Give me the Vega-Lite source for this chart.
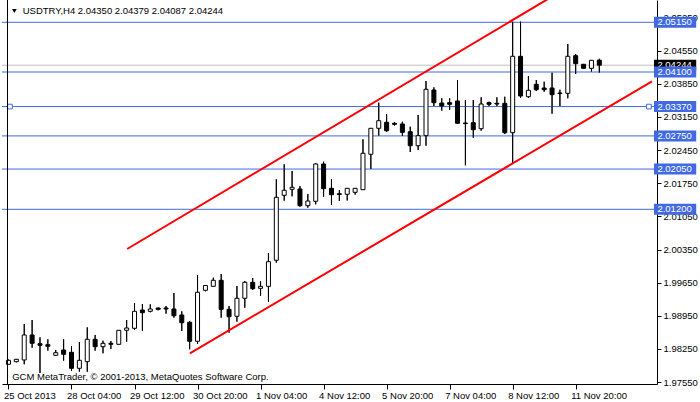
{
  "$schema": "https://vega.github.io/schema/vega-lite/v6.json",
  "width": 655,
  "height": 384,
  "autosize": "none",
  "padding": {"left": 2, "top": 0, "right": 43, "bottom": 18},
  "background": "white",
  "config": {
    "view": {"stroke": null},
    "font": "Liberation Sans",
    "axis": {"grid": false, "domainColor": "black", "tickColor": "black", "labelColor": "black", "labelFont": "Liberation Sans", "labelFontSize": 9.5, "labelFlush": false, "labelOverlap": false}
  },
  "datasets": {
    "candles": [
      {"i":0,"o":1.97926,"h":1.98027,"l":1.97921,"c":1.98010},
      {"i":1,"o":1.97981,"h":1.98038,"l":1.97968,"c":1.98031},
      {"i":2,"o":1.98017,"h":1.98777,"l":1.97926,"c":1.98545},
      {"i":3,"o":1.98545,"h":1.98861,"l":1.98276,"c":1.98369},
      {"i":4,"o":1.98361,"h":1.98496,"l":1.97742,"c":1.98327},
      {"i":5,"o":1.98340,"h":1.98454,"l":1.98213,"c":1.98306},
      {"i":6,"o":1.98116,"h":1.98228,"l":1.98112,"c":1.98171},
      {"i":7,"o":1.98228,"h":1.98454,"l":1.98002,"c":1.98137},
      {"i":8,"o":1.98179,"h":1.98312,"l":1.97784,"c":1.97841},
      {"i":9,"o":1.97841,"h":1.98397,"l":1.97769,"c":1.98010},
      {"i":10,"o":1.97981,"h":1.98707,"l":1.97769,"c":1.98454},
      {"i":11,"o":1.98454,"h":1.98545,"l":1.98213,"c":1.98297},
      {"i":12,"o":1.98297,"h":1.98424,"l":1.98158,"c":1.98369},
      {"i":13,"o":1.98369,"h":1.98418,"l":1.98249,"c":1.98348},
      {"i":14,"o":1.98348,"h":1.98650,"l":1.98344,"c":1.98644},
      {"i":15,"o":1.98644,"h":1.98861,"l":1.98403,"c":1.98692},
      {"i":16,"o":1.98686,"h":1.99221,"l":1.98656,"c":1.99045},
      {"i":17,"o":1.99073,"h":1.99199,"l":1.98635,"c":1.99016},
      {"i":18,"o":1.99045,"h":1.99193,"l":1.99024,"c":1.99094},
      {"i":19,"o":1.99115,"h":1.99121,"l":1.99066,"c":1.99087},
      {"i":20,"o":1.99115,"h":1.99157,"l":1.98995,"c":1.99094},
      {"i":21,"o":1.99094,"h":1.99432,"l":1.98910,"c":1.98952},
      {"i":22,"o":1.98967,"h":1.99045,"l":1.98629,"c":1.98804},
      {"i":23,"o":1.98813,"h":1.98840,"l":1.98243,"c":1.98412},
      {"i":24,"o":1.98412,"h":1.99806,"l":1.98354,"c":1.99447},
      {"i":25,"o":1.99489,"h":1.99594,"l":1.99468,"c":1.99590},
      {"i":26,"o":1.99573,"h":1.99755,"l":1.99565,"c":1.99700},
      {"i":27,"o":1.99700,"h":1.99833,"l":1.98910,"c":1.99087},
      {"i":28,"o":1.99087,"h":1.99157,"l":1.98593,"c":1.98931},
      {"i":29,"o":1.98940,"h":1.99580,"l":1.98826,"c":1.99320},
      {"i":30,"o":1.99320,"h":1.99685,"l":1.99121,"c":1.99658},
      {"i":31,"o":1.99658,"h":1.99749,"l":1.99495,"c":1.99523},
      {"i":32,"o":1.99531,"h":1.99679,"l":1.99375,"c":1.99573},
      {"i":33,"o":1.99573,"h":2.00277,"l":1.99248,"c":2.00093},
      {"i":34,"o":2.00123,"h":2.01834,"l":2.00072,"c":2.01453},
      {"i":35,"o":2.01496,"h":2.02150,"l":2.01382,"c":2.01601},
      {"i":36,"o":2.01622,"h":2.02009,"l":2.01474,"c":2.01665},
      {"i":37,"o":2.01629,"h":2.01692,"l":2.01255,"c":2.01276},
      {"i":38,"o":2.01276,"h":2.01523,"l":2.01234,"c":2.01375},
      {"i":39,"o":2.01369,"h":2.02172,"l":2.01305,"c":2.02157},
      {"i":40,"o":2.02157,"h":2.02205,"l":2.01466,"c":2.01635},
      {"i":41,"o":2.01643,"h":2.01834,"l":2.01291,"c":2.01508},
      {"i":42,"o":2.01529,"h":2.01607,"l":2.01375,"c":2.01512},
      {"i":43,"o":2.01517,"h":2.01650,"l":2.01386,"c":2.01643},
      {"i":44,"o":2.01559,"h":2.01650,"l":2.01510,"c":2.01643},
      {"i":45,"o":2.01614,"h":2.02679,"l":2.01607,"c":2.02383},
      {"i":46,"o":2.02362,"h":2.02917,"l":2.02051,"c":2.02911},
      {"i":47,"o":2.02911,"h":2.03452,"l":2.02755,"c":2.03071},
      {"i":48,"o":2.03038,"h":2.03207,"l":2.02839,"c":2.02860},
      {"i":49,"o":2.03017,"h":2.03044,"l":2.02970,"c":2.02995},
      {"i":50,"o":2.03002,"h":2.03050,"l":2.02748,"c":2.02826},
      {"i":51,"o":2.02839,"h":2.02945,"l":2.02410,"c":2.02543},
      {"i":52,"o":2.02543,"h":2.03192,"l":2.02453,"c":2.02755},
      {"i":53,"o":2.02755,"h":2.03910,"l":2.02543,"c":2.03735},
      {"i":54,"o":2.03720,"h":2.03777,"l":2.03382,"c":2.03452},
      {"i":55,"o":2.03445,"h":2.03545,"l":2.03283,"c":2.03382},
      {"i":56,"o":2.03452,"h":2.03545,"l":2.03298,"c":2.03418},
      {"i":57,"o":2.03488,"h":2.03931,"l":2.03010,"c":2.03017},
      {"i":58,"o":2.03023,"h":2.03509,"l":2.02129,"c":2.03010},
      {"i":59,"o":2.03029,"h":2.03509,"l":2.02712,"c":2.02881},
      {"i":60,"o":2.02902,"h":2.03566,"l":2.02860,"c":2.03424},
      {"i":61,"o":2.03452,"h":2.03473,"l":2.03382,"c":2.03418},
      {"i":62,"o":2.03439,"h":2.03566,"l":2.03382,"c":2.03424},
      {"i":63,"o":2.03439,"h":2.03578,"l":2.02790,"c":2.02818},
      {"i":64,"o":2.02818,"h":2.05163,"l":2.02172,"c":2.04432},
      {"i":65,"o":2.04432,"h":2.05163,"l":2.03557,"c":2.03593},
      {"i":66,"o":2.03578,"h":2.04016,"l":2.03557,"c":2.03714},
      {"i":67,"o":2.03840,"h":2.03931,"l":2.03699,"c":2.03726},
      {"i":68,"o":2.03762,"h":2.03895,"l":2.03684,"c":2.03726},
      {"i":69,"o":2.03762,"h":2.04085,"l":2.03219,"c":2.03621},
      {"i":70,"o":2.03657,"h":2.03726,"l":2.03382,"c":2.03644},
      {"i":71,"o":2.03650,"h":2.04692,"l":2.03545,"c":2.04432},
      {"i":72,"o":2.04445,"h":2.04480,"l":2.04058,"c":2.04276},
      {"i":73,"o":2.04263,"h":2.04270,"l":2.04172,"c":2.04178},
      {"i":74,"o":2.04178,"h":2.04354,"l":2.04107,"c":2.04347},
      {"i":75,"o":2.04350,"h":2.04379,"l":2.04087,"c":2.04244}
    ],
    "levels": [
      {"p":2.0515,"label":"2.05150"},
      {"p":2.041,"label":"2.04100"},
      {"p":2.0337,"label":"2.03370"},
      {"p":2.0275,"label":"2.02750"},
      {"p":2.0205,"label":"2.02050"},
      {"p":2.012,"label":"2.01200"}
    ],
    "current": [{"p":2.04244,"label":"2.04244"}],
    "channel": [
      {"line":"upper","i":15.06,"p":2.00361},
      {"line":"upper","i":70,"p":2.05792},
      {"line":"lower","i":23.03,"p":1.98158},
      {"line":"lower","i":81.6875,"p":2.039}
    ],
    "blank": [{}]
  },
  "layer": [
    {
      "data": {"name": "candles"},
      "mark": {"type": "rule", "color": "black", "strokeWidth": 1},
      "encoding": {
        "x": {"field": "i", "type": "quantitative", "title": null, "scale": {"domain": [-0.1875, 81.6875], "nice": false, "zero": false},
              "axis": {"orient": "bottom", "title": null, "values": [0, 8, 16, 24, 32, 40, 48, 56, 64, 72], "tickCount": 30, "tickSize": 5, "labelPadding": 1, "labelAlign": "left", "labelBaseline": "top", "labelOffset": -5, "labelOverlap": false, "labelFlush": false, "labelBound": false,
                       "labelExpr": "['25 Oct 2013','28 Oct 04:00','29 Oct 12:00','30 Oct 20:00','1 Nov 04:00','4 Nov 12:00','5 Nov 20:00','7 Nov 04:00','8 Nov 12:00','11 Nov 20:00'][round(datum.value/8)]"}},
        "y": {"field": "l", "type": "quantitative", "title": null, "scale": {"domain": [1.975095, 2.056211], "nice": false, "zero": false},
              "axis": {"orient": "right", "title": null, "values": [1.9755, 1.9825, 1.9895, 1.9965, 2.0035, 2.0105, 2.0175, 2.0245, 2.0315, 2.0385, 2.0455, 2.0525], "tickCount": 30, "format": ".5f", "tickSize": 4, "labelPadding": 2, "labelOverlap": false, "labelFlush": false, "labelBound": false}},
        "y2": {"field": "h"}
      }
    },
    {
      "data": {"name": "levels"},
      "mark": {"type": "rule", "color": "#4169e1", "strokeWidth": 1},
      "encoding": {
        "y": {"field": "p", "type": "quantitative", "title": null, "scale": {"domain": [1.975095, 2.056211], "nice": false, "zero": false}}
      }
    },
    {
      "data": {"name": "current"},
      "mark": {"type": "rule", "color": "#c0c0c0", "strokeWidth": 1},
      "encoding": {
        "y": {"field": "p", "type": "quantitative", "title": null, "scale": {"domain": [1.975095, 2.056211], "nice": false, "zero": false}}
      }
    },
    {
      "data": {"name": "candles"},
      "mark": {"type": "rule", "color": "black", "strokeWidth": 1},
      "encoding": {
        "x": {"field": "i", "type": "quantitative", "title": null, "scale": {"domain": [-0.1875, 81.6875], "nice": false, "zero": false}},
        "y": {"field": "l", "type": "quantitative", "title": null, "scale": {"domain": [1.975095, 2.056211], "nice": false, "zero": false}},
        "y2": {"field": "h"}
      }
    },
    {
      "data": {"name": "candles"},
      "mark": {"type": "bar", "width": 4, "stroke": "black", "strokeWidth": 1},
      "encoding": {
        "x": {"field": "i", "type": "quantitative", "title": null, "scale": {"domain": [-0.1875, 81.6875], "nice": false, "zero": false}},
        "y": {"field": "o", "type": "quantitative", "title": null, "scale": {"domain": [1.975095, 2.056211], "nice": false, "zero": false}},
        "y2": {"field": "c"},
        "fill": {"condition": {"test": "datum.c >= datum.o", "value": "white"}, "value": "black"}
      }
    },
    {
      "data": {"name": "channel"},
      "mark": {"type": "line", "color": "#ff0000", "strokeWidth": 2, "clip": true},
      "encoding": {
        "x": {"field": "i", "type": "quantitative", "title": null, "scale": {"domain": [-0.1875, 81.6875], "nice": false, "zero": false}},
        "y": {"field": "p", "type": "quantitative", "title": null, "scale": {"domain": [1.975095, 2.056211], "nice": false, "zero": false}},
        "detail": {"field": "line", "type": "nominal"}
      }
    },
    {
      "data": {"name": "levels"},
      "transform": [{"filter": "datum.p == 2.0337"}],
      "mark": {"type": "point", "shape": "square", "size": 22, "filled": true, "fill": "white", "stroke": "#4169e1", "strokeWidth": 1, "opacity": 1},
      "encoding": {
        "x": {"datum": 0.19, "type": "quantitative", "scale": {"domain": [-0.1875, 81.6875], "nice": false, "zero": false}},
        "y": {"field": "p", "type": "quantitative", "title": null, "scale": {"domain": [1.975095, 2.056211], "nice": false, "zero": false}}
      }
    },
    {
      "data": {"name": "levels"},
      "transform": [{"filter": "datum.p == 2.0337"}],
      "mark": {"type": "point", "shape": "square", "size": 22, "filled": true, "fill": "white", "stroke": "#4169e1", "strokeWidth": 1, "opacity": 1},
      "encoding": {
        "x": {"datum": 81.3, "type": "quantitative", "scale": {"domain": [-0.1875, 81.6875], "nice": false, "zero": false}},
        "y": {"field": "p", "type": "quantitative", "title": null, "scale": {"domain": [1.975095, 2.056211], "nice": false, "zero": false}}
      }
    },
    {
      "data": {"name": "current"},
      "mark": {"type": "rule", "color": "black", "strokeWidth": 11},
      "encoding": {
        "x": {"datum": 81.94, "type": "quantitative", "scale": {"domain": [-0.1875, 81.6875], "nice": false, "zero": false}},
        "x2": {"datum": 87.3},
        "y": {"field": "p", "type": "quantitative", "title": null, "scale": {"domain": [1.975095, 2.056211], "nice": false, "zero": false}}
      }
    },
    {
      "data": {"name": "current"},
      "mark": {"type": "text", "color": "white", "fontSize": 9.5, "align": "left", "baseline": "middle", "font": "Liberation Sans"},
      "encoding": {
        "x": {"datum": 82.375, "type": "quantitative", "scale": {"domain": [-0.1875, 81.6875], "nice": false, "zero": false}},
        "y": {"field": "p", "type": "quantitative", "title": null, "scale": {"domain": [1.975095, 2.056211], "nice": false, "zero": false}},
        "text": {"field": "label"}
      }
    },
    {
      "data": {"name": "levels"},
      "mark": {"type": "rule", "color": "#4169e1", "strokeWidth": 11},
      "encoding": {
        "x": {"datum": 81.94, "type": "quantitative", "scale": {"domain": [-0.1875, 81.6875], "nice": false, "zero": false}},
        "x2": {"datum": 87.3},
        "y": {"field": "p", "type": "quantitative", "title": null, "scale": {"domain": [1.975095, 2.056211], "nice": false, "zero": false}}
      }
    },
    {
      "data": {"name": "levels"},
      "mark": {"type": "text", "color": "white", "fontSize": 9.5, "align": "left", "baseline": "middle", "font": "Liberation Sans"},
      "encoding": {
        "x": {"datum": 82.375, "type": "quantitative", "scale": {"domain": [-0.1875, 81.6875], "nice": false, "zero": false}},
        "y": {"field": "p", "type": "quantitative", "title": null, "scale": {"domain": [1.975095, 2.056211], "nice": false, "zero": false}},
        "text": {"field": "label"}
      }
    },
    {
      "data": {"name": "blank"},
      "mark": {"type": "text", "text": "USDTRY,H4  2.04350 2.04379 2.04087 2.04244", "color": "black", "fontSize": 9.5, "align": "left", "baseline": "middle", "font": "Liberation Sans"},
      "encoding": {
        "x": {"datum": 1.81, "type": "quantitative", "scale": {"domain": [-0.1875, 81.6875], "nice": false, "zero": false}},
        "y": {"datum": 2.0539, "type": "quantitative", "scale": {"domain": [1.975095, 2.056211], "nice": false, "zero": false}}
      }
    },
    {
      "data": {"name": "blank"},
      "mark": {"type": "point", "shape": "triangle-down", "size": 22, "filled": true, "color": "black", "opacity": 1},
      "encoding": {
        "x": {"datum": 0.75, "type": "quantitative", "scale": {"domain": [-0.1875, 81.6875], "nice": false, "zero": false}},
        "y": {"datum": 2.05389, "type": "quantitative", "scale": {"domain": [1.975095, 2.056211], "nice": false, "zero": false}}
      }
    },
    {
      "data": {"name": "blank"},
      "mark": {"type": "text", "text": "GCM MetaTrader, © 2001-2013, MetaQuotes Software Corp.", "color": "black", "fontSize": 9.5, "align": "left", "baseline": "middle", "font": "Liberation Sans"},
      "encoding": {
        "x": {"datum": 0.475, "type": "quantitative", "scale": {"domain": [-0.1875, 81.6875], "nice": false, "zero": false}},
        "y": {"datum": 1.97651, "type": "quantitative", "scale": {"domain": [1.975095, 2.056211], "nice": false, "zero": false}}
      }
    },
    {
      "data": {"name": "blank"},
      "mark": {"type": "rule", "color": "black", "strokeWidth": 1},
      "encoding": {
        "x": {"datum": -0.125, "type": "quantitative", "scale": {"domain": [-0.1875, 81.6875], "nice": false, "zero": false}}
      }
    }
  ]
}
